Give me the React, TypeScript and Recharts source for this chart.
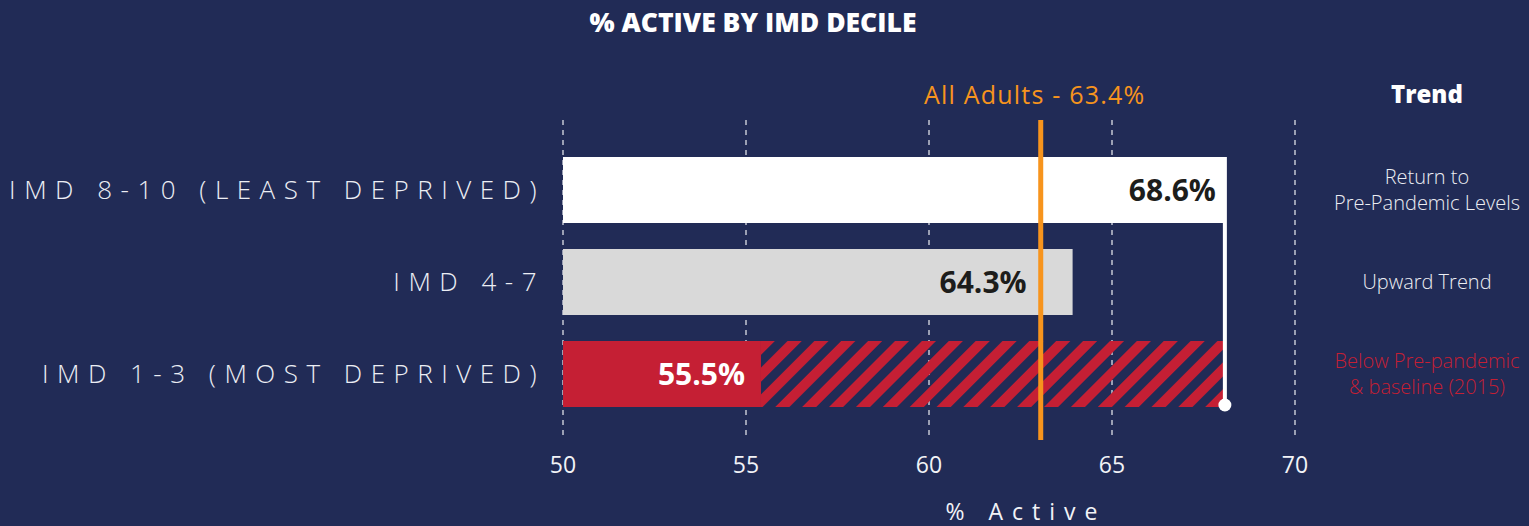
import React from 'react';
import { BarChart, Bar, XAxis, YAxis, CartesianGrid, ReferenceLine, LabelList } from 'recharts';

// ---- data ----
const categories = ['IMD 8-10 (LEAST DEPRIVED)', 'IMD 4-7', 'IMD 1-3 (MOST DEPRIVED)'];
const activePct = [68.6, 64.3, 55.5];
const gapToLeastDeprived = [0, 0, 13.1];
const valueLabels = ['68.6%', '64.3%', '55.5%'];
const trendLabels = [
  ['Return to', 'Pre-Pandemic Levels'],
  ['Upward Trend'],
  ['Below Pre-pandemic', '& baseline (2015)'],
];
const allAdultsPct = 63.4;
const allAdultsLabel = 'All Adults - 63.4%';
const xTicks = [50, 55, 60, 65, 70];
const chartTitle = '% ACTIVE BY IMD DECILE';
const trendTitle = 'Trend';
const xAxisTitle = '% Active';

// ---- styles ----
const BG = '#212b56';
const RED = '#c51f34';
const ORANGE = '#f7941d';
const barColors = ['#ffffff', '#d9d9d9', RED];
const labelColors = ['#1d1d1b', '#1d1d1b', '#ffffff'];
const labelPads = [9, 46, 16];
const trendColors = ['#eceef3', '#eceef3', RED];
const FONT = '"Open Sans", "DejaVu Sans", sans-serif';

const data = categories.map((cat, i) => ({
  cat,
  value: activePct[i],
  gap: gapToLeastDeprived[i],
}));

const CatTick = (props: any) => {
  const { x, y, payload } = props;
  return (
    <text
      x={x}
      y={y}
      dy="0.36em"
      textAnchor="end"
      fill="#eceef4"
      fontSize={26}
      fontWeight={300}
      fontFamily={FONT}
      letterSpacing={8.5}
    >
      {payload.value}
    </text>
  );
};

const TrendTick = (props: any) => {
  const { x, y, index } = props;
  const lines = trendLabels[index] || [];
  const lh = 25.5;
  const start = y - ((lines.length - 1) * lh) / 2;
  return (
    <text
      x={x + 132}
      y={start}
      textAnchor="middle"
      fill={trendColors[index]}
      fontSize={20}
      fontWeight={300}
      fontFamily={FONT}
    >
      {lines.map((l, i) => (
        <tspan key={i} x={x + 132} y={start + i * lh} dy="0.36em">
          {l}
        </tspan>
      ))}
    </text>
  );
};

const ValueLabel = (props: any) => {
  const vb = props.viewBox ?? props;
  const { x, y, width, height } = vb;
  const index = props.index;
  return (
    <text
      x={x + width - labelPads[index]}
      y={y + height / 2}
      dy="0.36em"
      textAnchor="end"
      fill={labelColors[index]}
      fontSize={30}
      fontWeight={700}
      fontFamily={FONT}
    >
      {valueLabels[index]}
    </text>
  );
};

const GapLine = (props: any) => {
  const { x1, y1, x2, y2 } = props;
  const top = Math.min(y1, y2) - 33;
  const bottom = Math.max(y1, y2) + 31;
  return (
    <g>
      <line x1={x1} x2={x2} y1={top} y2={bottom} stroke="#ffffff" strokeWidth={4} />
      <circle cx={x2} cy={bottom} r={6.5} fill="#ffffff" />
    </g>
  );
};

export default function App() {
  return (
    <div
      style={{
        position: 'fixed',
        left: 0,
        top: 0,
        width: 1529,
        height: 526,
        background: BG,
        overflow: 'hidden',
      }}
    >
      <svg width={0} height={0} style={{ position: 'absolute' }}>
        <defs>
          <pattern
            id="hatch"
            patternUnits="userSpaceOnUse"
            width={19}
            height={19}
            patternTransform="rotate(45)"
          >
            <rect x={0} y={0} width={10} height={19} fill={RED} />
          </pattern>
        </defs>
      </svg>
      <div
        style={{
          position: 'absolute',
          left: 553,
          width: 400,
          top: 5,
          textAlign: 'center',
          color: '#ffffff',
          fontFamily: FONT,
          fontWeight: 800,
          fontSize: 26.5,
          lineHeight: '34px',
        }}
      >
        {chartTitle}
      </div>
      <div
        style={{
          position: 'absolute',
          left: 1327,
          width: 200,
          top: 78,
          textAlign: 'center',
          color: '#ffffff',
          fontFamily: FONT,
          fontWeight: 800,
          fontSize: 24,
          lineHeight: '32px',
        }}
      >
        {trendTitle}
      </div>
      <BarChart
        layout="vertical"
        width={1529}
        height={526}
        data={data}
        margin={{ top: 120, right: 0, bottom: 0, left: 0 }}
        barSize={66}
      >
        <CartesianGrid
          xAxisId="t"
          vertical
          horizontal={false}
          stroke="#c4c8d4"
          strokeWidth={1.5}
          strokeDasharray="5 5"
        />
        <XAxis
          xAxisId="b"
          type="number"
          domain={[49.91, 70.58]}
          allowDataOverflow
          hide
          height={0}
        />
        <XAxis
          xAxisId="t"
          type="number"
          domain={[50, 70]}
          allowDataOverflow
          ticks={xTicks}
          axisLine={false}
          tickLine={false}
          tickSize={0}
          tickMargin={17}
          height={86}
          tick={{ fill: '#f2f3f7', fontSize: 23, fontFamily: FONT }}
          label={{
            content: (p: any) => {
              const vb = p.viewBox;
              return (
                <text
                  x={vb.x + vb.width / 2 + 97}
                  y={520}
                  textAnchor="middle"
                  fill="#f2f3f7"
                  fontSize={23}
                  fontFamily={FONT}
                  letterSpacing={9}
                >
                  {xAxisTitle}
                </text>
              );
            },
          }}
        />
        <YAxis
          type="category"
          dataKey="cat"
          width={563}
          axisLine={false}
          tickLine={false}
          tickSize={0}
          tickMargin={18}
          padding={{ top: 24, bottom: 20 }}
          tick={<CatTick />}
          interval={0}
        />
        <YAxis
          yAxisId="trend"
          orientation="right"
          type="category"
          dataKey="cat"
          width={234}
          axisLine={false}
          tickLine={false}
          tickSize={0}
          tickMargin={0}
          padding={{ top: 24, bottom: 20 }}
          tick={<TrendTick />}
          interval={0}
        />
        <Bar
          xAxisId="b"
          dataKey="value"
          stackId="s"
          isAnimationActive={false}
          shape={(p: any) => (
            <rect x={p.x} y={p.y} width={p.width} height={p.height} fill={barColors[p.index]} />
          )}
        >
          <LabelList dataKey="value" content={<ValueLabel />} />
        </Bar>
        <Bar
          xAxisId="b"
          dataKey="gap"
          stackId="s"
          fill="url(#hatch)"
          isAnimationActive={false}
        />
        <ReferenceLine
          xAxisId="b"
          segment={[
            { x: activePct[0], y: categories[0] },
            { x: activePct[0], y: categories[2] },
          ]}
          shape={<GapLine />}
          ifOverflow="visible"
        />
        <ReferenceLine
          xAxisId="b"
          x={allAdultsPct}
          stroke={ORANGE}
          strokeWidth={5}
          label={{
            value: allAdultsLabel,
            position: 'top',
            offset: 16,
            fill: ORANGE,
            fontSize: 25,
            fontFamily: FONT,
            letterSpacing: 1.2,
            dx: -6,
          }}
        />
      </BarChart>
    </div>
  );
}
